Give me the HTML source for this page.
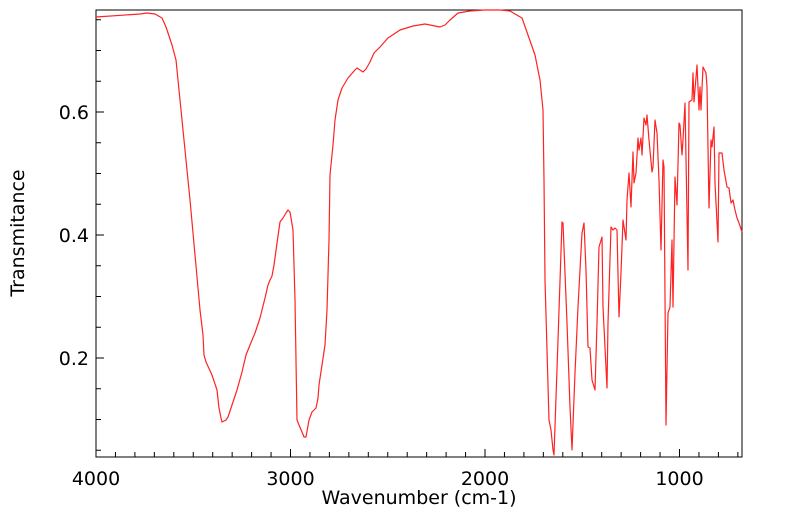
<!DOCTYPE html>
<html><head><style>body{margin:0;background:#fff}svg{display:block}text{font-family:"DejaVu Sans","Liberation Sans",sans-serif;fill:#000}</style></head>
<body>
<svg width="799" height="516" viewBox="0 0 799 516">
<rect x="96" y="10" width="646" height="447" fill="#fff" stroke="#000" stroke-width="1"/>
<g stroke="#000" stroke-width="1">
<line x1="96" y1="457" x2="96" y2="449"/><line x1="115.45" y1="457" x2="115.45" y2="452"/><line x1="134.9" y1="457" x2="134.9" y2="452"/><line x1="154.35" y1="457" x2="154.35" y2="452"/><line x1="173.8" y1="457" x2="173.8" y2="452"/><line x1="193.25" y1="457" x2="193.25" y2="452"/><line x1="212.7" y1="457" x2="212.7" y2="452"/><line x1="232.15" y1="457" x2="232.15" y2="452"/><line x1="251.6" y1="457" x2="251.6" y2="452"/><line x1="271.05" y1="457" x2="271.05" y2="452"/>
<line x1="290.5" y1="457" x2="290.5" y2="449"/><line x1="309.95" y1="457" x2="309.95" y2="452"/><line x1="329.4" y1="457" x2="329.4" y2="452"/><line x1="348.85" y1="457" x2="348.85" y2="452"/><line x1="368.3" y1="457" x2="368.3" y2="452"/><line x1="387.75" y1="457" x2="387.75" y2="452"/><line x1="407.2" y1="457" x2="407.2" y2="452"/><line x1="426.65" y1="457" x2="426.65" y2="452"/><line x1="446.1" y1="457" x2="446.1" y2="452"/><line x1="465.55" y1="457" x2="465.55" y2="452"/>
<line x1="485" y1="457" x2="485" y2="449"/><line x1="504.45" y1="457" x2="504.45" y2="452"/><line x1="523.9" y1="457" x2="523.9" y2="452"/><line x1="543.35" y1="457" x2="543.35" y2="452"/><line x1="562.8" y1="457" x2="562.8" y2="452"/><line x1="582.25" y1="457" x2="582.25" y2="452"/><line x1="601.7" y1="457" x2="601.7" y2="452"/><line x1="621.15" y1="457" x2="621.15" y2="452"/><line x1="640.6" y1="457" x2="640.6" y2="452"/><line x1="660.05" y1="457" x2="660.05" y2="452"/>
<line x1="679.5" y1="457" x2="679.5" y2="449"/><line x1="698.95" y1="457" x2="698.95" y2="452"/><line x1="718.4" y1="457" x2="718.4" y2="452"/><line x1="737.85" y1="457" x2="737.85" y2="452"/>
<line x1="96" y1="450.25" x2="101" y2="450.25"/><line x1="96" y1="419.5" x2="101" y2="419.5"/><line x1="96" y1="388.75" x2="101" y2="388.75"/><line x1="96" y1="358" x2="104" y2="358"/><line x1="96" y1="327.25" x2="101" y2="327.25"/><line x1="96" y1="296.5" x2="101" y2="296.5"/><line x1="96" y1="265.75" x2="101" y2="265.75"/><line x1="96" y1="235" x2="104" y2="235"/><line x1="96" y1="204.25" x2="101" y2="204.25"/><line x1="96" y1="173.5" x2="101" y2="173.5"/><line x1="96" y1="142.75" x2="101" y2="142.75"/><line x1="96" y1="112" x2="104" y2="112"/><line x1="96" y1="81.25" x2="101" y2="81.25"/><line x1="96" y1="50.5" x2="101" y2="50.5"/><line x1="96" y1="19.75" x2="101" y2="19.75"/>
</g>
<polyline fill="none" stroke="#f22" stroke-width="1.2" stroke-linejoin="round" points="96,17 140,14 147,13 155,14 162,18 166,27 172,45 176,60 177,70 180,100 185,150 190,200 195,255 200,310 203,335 204,355 206,362 212,375 217,390 219,408 221,418 222,422 226,420 228,417 232,405 237,390 242,372 246,355 250,345 255,333 260,318 265,298 268,285 270,280 272,276 274,265 278,236 280,222 283,218 286,213 288,210 290,212 293,230 295,300 297,420 299,425 302,432 304,437 306,437 309,420 312,412 316,408 318,398 319,385 322,365 325,345 327,310 329,240 330,175 333,145 335,120 338,100 342,88 348,78 355,70 357,68 360,70 363,72 366,69 370,62 374,53 380,47 388,38 400,30 413,26 425,24 440,27 445,25 450,20 458,13 470,11 485,10 500,10 510,11 515,14 522,18 528,35 535,55 540,80 542,100 543,110 544,180 545,280 547,350 549,420 551,430 553,450 554,455 558,340 562,222 563,223 567,323 570,407 572,450 575,373 578,307 582,233 584,223 586,270 588,347 590,348 592,380 595,390 597,323 599,247 602,237 603,307 607,388 608,323 611,227 613,230 615,228 617,230 619,317 621,273 623,220 626,240 627,200 629,173 631,207 633,152 634,183 636,173 638,138 639,150 641,138 642,155 644,118 646,125 647,115 649,140 652,172 653,167 655,120 657,133 659,180 661,250 663,160 664,167 666,425 668,313 670,307 672,240 673,307 675,177 677,205 679,123 680,125 682,155 683,140 685,103 688,270 689,102 692,100 693,73 694,102 697,65 699,110 700,87 701,110 703,67 706,73 707,87 709,208 711,140 712,147 714,127 715,183 718,242 719,153 722,153 724,170 727,187 729,188 731,203 733,200 735,210 737,218 739,223 742,232"/>
<g font-size="19">
<text x="96" y="485" text-anchor="middle">4000</text>
<text x="290.5" y="485" text-anchor="middle">3000</text>
<text x="485" y="485" text-anchor="middle">2000</text>
<text x="679.5" y="485" text-anchor="middle">1000</text>
<text x="89" y="119" text-anchor="end">0.6</text>
<text x="89" y="242" text-anchor="end">0.4</text>
<text x="89" y="365" text-anchor="end">0.2</text>
<text x="419" y="504" text-anchor="middle">Wavenumber (cm-1)</text>
<text transform="translate(24,233) rotate(-90)" text-anchor="middle">Transmitance</text>
</g>
</svg>
</body></html>
